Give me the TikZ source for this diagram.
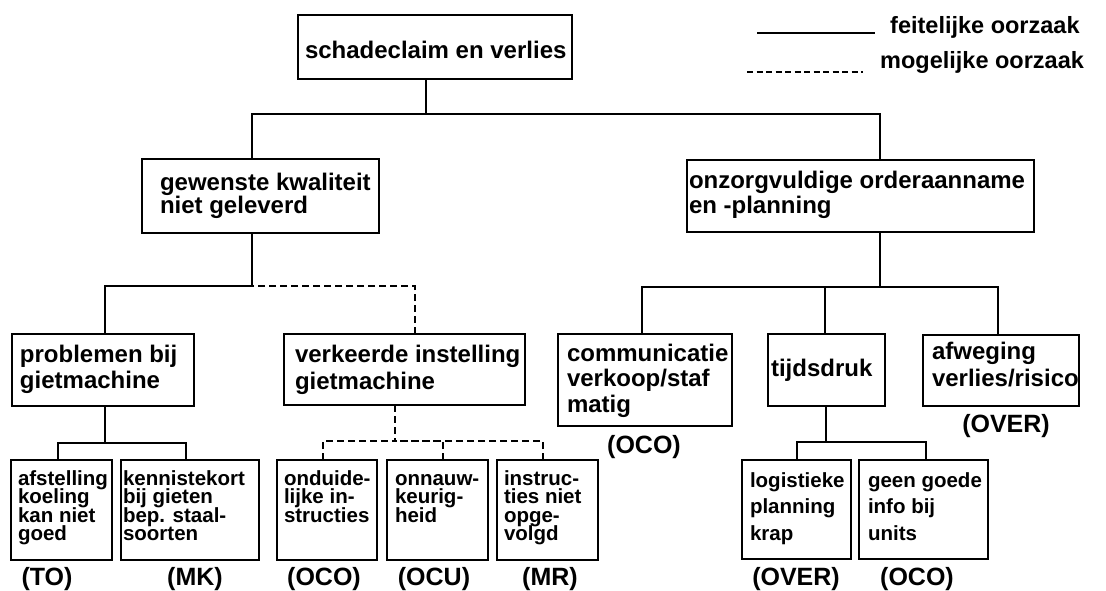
\documentclass[tikz,border=0pt]{standalone}
\usepackage{fontspec}
\setmainfont{Liberation Sans}
\newcommand{\boxtext}[6]{\parbox[c][#2][t]{#1}{\lineskiplimit=-\maxdimen\lineskip=0pt\baselineskip=#4\leftskip=#3\rightskip=0pt plus 1fil\parfillskip=0pt plus 1fil\parindent=0pt\rule{0pt}{#5}#6}}
\tikzset{
  box/.style={draw, line width=1.6pt, inner sep=0pt, outer sep=0pt, font=\fontsize{24}{25}\selectfont\bfseries},
  smallbox/.style={box, font=\fontsize{20.5}{18}\selectfont\bfseries},
  link/.style={line width=1.6pt},
  maybe/.style={line width=1.6pt, dash pattern=on 7pt off 4pt},
  legdash/.style={line width=1.6pt, dash pattern=on 6pt off 3.5pt},
  lbl/.style={inner sep=0pt, font=\fontsize{25}{27}\selectfont\bfseries},
  legtxt/.style={inner sep=0pt, font=\fontsize{23.5}{25}\selectfont\bfseries},
}
\begin{document}
\begin{tikzpicture}[x=1pt,y=-1pt]
\useasboundingbox (0,0) rectangle (1106,590);

% level 0
\node[box] (top) at (435,47) {\boxtext{274pt}{64pt}{7pt}{25pt}{43pt}{schadeclaim en verlies}};

% level 1
\node[box] (gew) at (260.5,196) {\boxtext{237pt}{74pt}{18pt}{23pt}{31pt}{gewenste kwaliteit\\niet geleverd}};
\node[box] (onz) at (860.5,196) {\boxtext{347pt}{72pt}{2pt}{25pt}{28pt}{onzorgvuldige orderaanname\\en -planning}};

% level 2
\node[box] (prob) at (103,370) {\boxtext{182pt}{72pt}{8pt}{26pt}{28pt}{problemen bij\\gietmachine}};
\node[box] (verk) at (404.5,369.5) {\boxtext{241pt}{71pt}{11pt}{27pt}{28pt}{verkeerde instelling\\gietmachine}};
\node[box] (comm) at (645,380) {\boxtext{174pt}{92pt}{9pt}{25.5pt}{27pt}{communicatie\\verkoop/staf\\matig}};
\node[box] (tijd) at (826.5,370) {\boxtext{117pt}{72pt}{3pt}{25pt}{42pt}{tijdsdruk}};
\node[box] (afw) at (1001,370.5) {\boxtext{156pt}{71pt}{9pt}{27pt}{24pt}{afweging\\verlies/risico}};

% level 3
\node[smallbox] (afst) at (61.5,510) {\boxtext{101pt}{100pt}{7pt}{18.5pt}{25pt}{afstelling\\koeling\\kan niet\\goed}};
\node[smallbox] (kenn) at (190,510) {\boxtext{138pt}{100pt}{2pt}{18.5pt}{25pt}{kennistekort\\bij gieten\\bep. staal-\\soorten}};
\node[smallbox] (ond) at (327,510) {\boxtext{100pt}{100pt}{7pt}{18.5pt}{25pt}{onduide-\\lijke in-\\structies}};
\node[smallbox] (onn) at (437.5,510) {\boxtext{101pt}{100pt}{8pt}{18.5pt}{25pt}{onnauw-\\keurig-\\heid}};
\node[smallbox] (ins) at (547.5,510) {\boxtext{101pt}{100pt}{7pt}{18.5pt}{25pt}{instruc-\\ties niet\\opge-\\volgd}};
\node[smallbox] (log) at (796.5,509.5) {\boxtext{109pt}{99pt}{8pt}{26.5pt}{27pt}{logistieke\\planning\\krap}};
\node[smallbox] (geen) at (923.5,509.5) {\boxtext{129pt}{99pt}{9pt}{26.5pt}{27pt}{geen goede\\info bij\\units}};

% labels
\node[lbl, anchor=base] (lTO) at (47,585) {(TO)};
\node[lbl, anchor=base] (lMK) at (195,585) {(MK)};
\node[lbl, anchor=base] (lOCOa) at (324,585) {(OCO)};
\node[lbl, anchor=base] (lOCU) at (434,585) {(OCU)};
\node[lbl, anchor=base] (lMR) at (550,585) {(MR)};
\node[lbl, anchor=base] (lOCOb) at (644,453) {(OCO)};
\node[lbl, anchor=base] (lOVERa) at (1006,432) {(OVER)};
\node[lbl, anchor=base] (lOVERb) at (796,585) {(OVER)};
\node[lbl, anchor=base] (lOCOc) at (917,585) {(OCO)};

% connectors
\coordinate (b0) at (426,114);
\draw[link] (top.south -| b0) -- (b0);
\draw[link] ([xshift=-8.5pt]gew.north) |- (b0);
\draw[link] ([xshift=19.5pt]onz.north) |- (b0);

\coordinate (b1) at (252,286);
\draw[link] ([xshift=-8.5pt]gew.south) -- (b1);
\draw[link] ([xshift=2pt]prob.north) |- (b1);
\draw[maybe] ([xshift=10.5pt]verk.north) |- (b1);

\coordinate (b2) at (880,287);
\draw[link] ([xshift=19.5pt]onz.south) -- (b2);
\draw[link] ([xshift=-3pt]comm.north) |- (b2);
\draw[link] ([xshift=-1.5pt]tijd.north) |- (b2);
\draw[link] ([xshift=-3pt]afw.north) |- (b2);

\coordinate (b3) at (105,443);
\draw[link] ([xshift=2pt]prob.south) -- (b3);
\draw[link] ([xshift=-3.5pt]afst.north) |- (b3);
\draw[link] ([xshift=-4pt]kenn.north) |- (b3);

\coordinate (b4) at (395,441);
\draw[maybe] ([xshift=-9.5pt]verk.south) -- (b4);
\draw[maybe] ([xshift=-4pt]ond.north) |- (b4);
\draw[maybe] ([xshift=5.5pt]onn.north) |- (b4);
\draw[maybe] ([xshift=-4.5pt]ins.north) |- (b4);

\coordinate (b5) at (826,442);
\draw[link] ([xshift=-0.5pt]tijd.south) -- (b5);
\draw[link] ([xshift=0.5pt]log.north) |- (b5);
\draw[link] ([xshift=2.5pt]geen.north) |- (b5);

% legend
\coordinate (la1) at (757,33);
\coordinate (la2) at (875,33);
\draw[link] (la1) -- (la2);
\node[legtxt, anchor=base west] (leg1) at (890,33) {feitelijke oorzaak};
\coordinate (lb1) at (747,72);
\coordinate (lb2) at (863,72);
\draw[legdash] (lb1) -- (lb2);
\node[legtxt, anchor=base west] (leg2) at (880,68) {mogelijke oorzaak};
\end{tikzpicture}
\end{document}
